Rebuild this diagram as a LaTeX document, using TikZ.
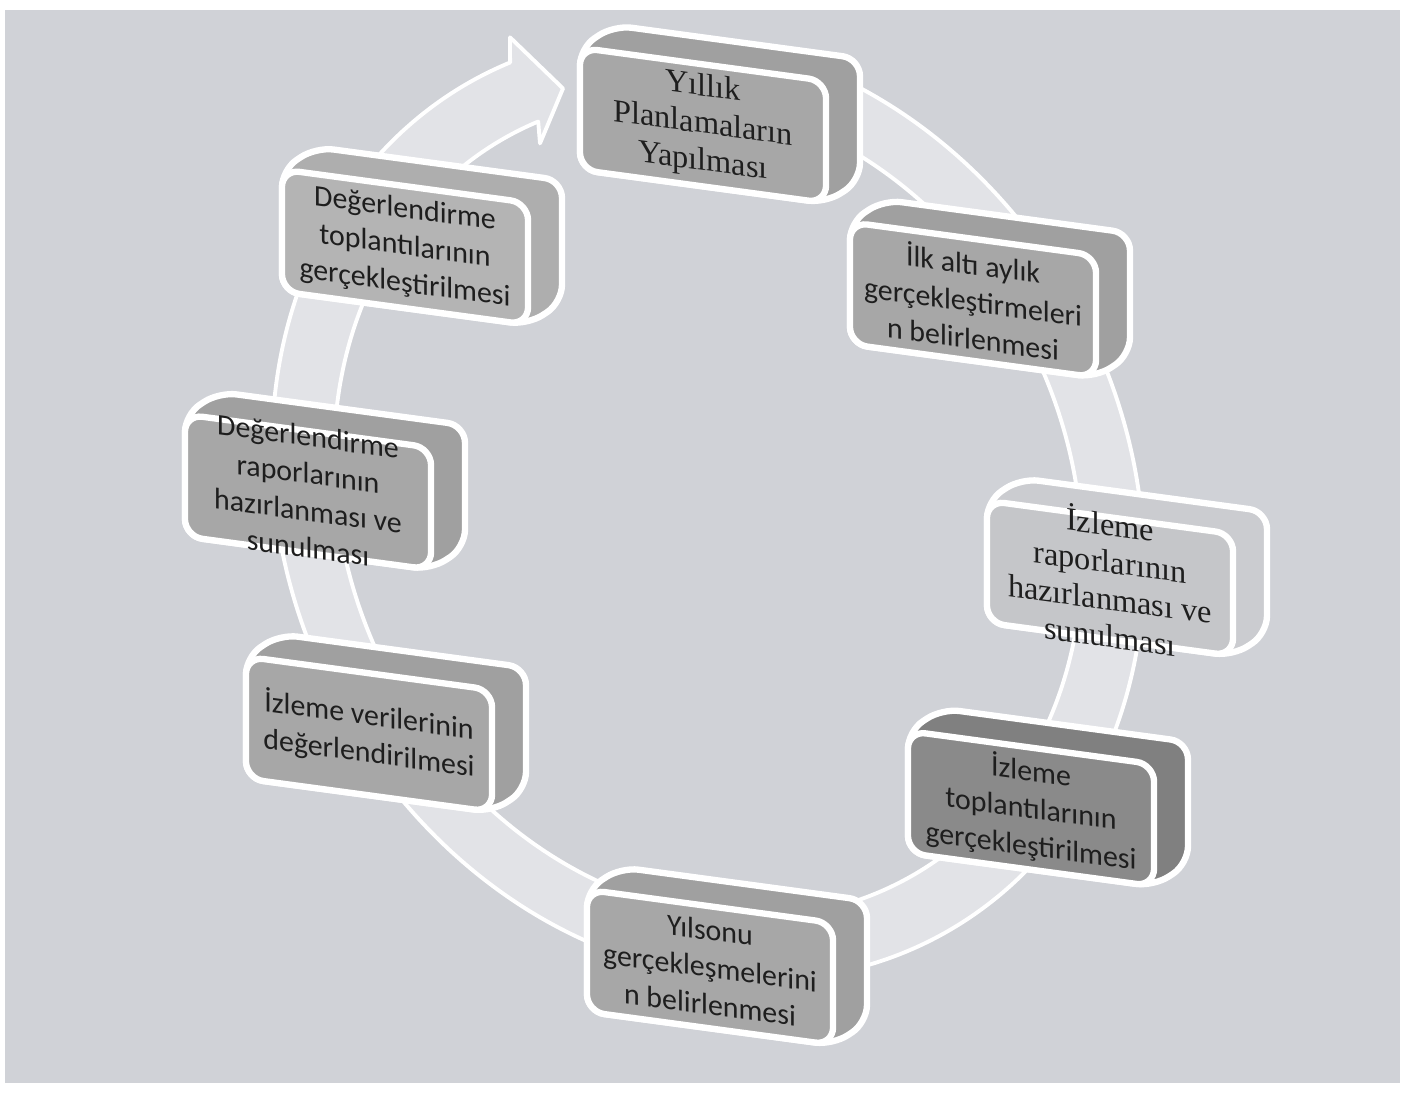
\documentclass[tikz,border=0pt]{standalone}
\usepackage{fontspec}
\setmainfont{Carlito}
\newfontfamily\sansf{Carlito}
\newfontfamily\seriff{Liberation Serif}
\definecolor{bgc}{RGB}{208,210,215}
\definecolor{bandc}{RGB}{226,227,231}
\definecolor{txt}{RGB}{30,30,30}
\definecolor{fA}{RGB}{167,167,167}
\definecolor{sA}{RGB}{160,160,160}
\definecolor{fL}{RGB}{197,198,201}
\definecolor{sL}{RGB}{203,204,208}
\definecolor{fD}{RGB}{138,138,138}
\definecolor{sD}{RGB}{128,128,128}
\definecolor{fM}{RGB}{180,180,180}
\definecolor{sM}{RGB}{174,174,174}
\tikzset{
  sideface/.style={draw=white, line width=1.8pt, rounded corners=5pt, line join=round},
  boxface/.style={draw=white, line width=1.8pt, rounded corners=5pt,
    minimum width=2.46cm, minimum height=1.22cm, inner sep=0pt, outer sep=0pt},
  boxtext/.style={align=center, text=txt, inner sep=0pt},
  sanstext/.style={font=\fontsize{8.5}{10.6}\selectfont\sansf},
  seriftext/.style={font=\fontsize{9.2}{10.6}\selectfont\seriff},
  band/.style={fill=bandc, draw=white, line width=1.1pt, line join=round}
}
\newcommand\cyclebox[7]{%
  \filldraw[sideface, fill=#5] (#2,#3) ++(-123,61) -- ++(34,27) -- ++(246,0)
    -- ++(0,-122) -- ++(-34,-27) -- ++(-246,0) -- cycle;
  \node[boxface, fill=#4] (#1) at (#2,#3) {};
  \node[boxtext, #6] (#1t) at (#2,#3) {#7};
}
\begin{document}
\begin{tikzpicture}[x=0.01cm,y=0.01cm]
\useasboundingbox (0,0) rectangle (1414,-1095);
\fill[white] (0,0) rectangle (1414,-1095);
\fill[bgc] (5,-10) rectangle (1400,-1083);
\begin{scope}[cm={1,-0.135,0,1,(0cm,0.9545cm)}, transform shape]
  % circular arrow band
  \filldraw[band] (768.7,-42.6)
    arc[start angle=82, end angle=-243, x radius=436, y radius=469]
    -- (510,-64) -- (563,-108) -- (540,-166) -- (538.2,-144.4)
    arc[start angle=-243, end angle=82, x radius=374, y radius=407]
    -- cycle;
  % boxes
  \cyclebox{b1}{703}{-126}{fA}{sA}{seriftext}{Yıllık\\Planlamaların\\Yapılması}
  \cyclebox{b2}{973}{-264}{fA}{sA}{sanstext}{İlk altı aylık\\gerçekleştirmeleri\\n belirlenmesi}
  \cyclebox{b3}{1110}{-524}{fL}{sL}{seriftext}{İzleme\\raporlarının\\hazırlanması ve\\sunulması}
  \cyclebox{b4}{1031}{-765}{fD}{sD}{sanstext}{İzleme\\toplantılarının\\gerçekleştirilmesi}
  \cyclebox{b5}{710}{-967}{fA}{sA}{sanstext}{Yılsonu\\gerçekleşmelerini\\n belirlenmesi}
  \cyclebox{b6}{369}{-780}{fA}{sA}{sanstext}{İzleme verilerinin\\değerlendirilmesi}
  \cyclebox{b7}{308}{-546}{fA}{sA}{sanstext}{Değerlendirme\\raporlarının\\hazırlanması ve\\sunulması}
  \cyclebox{b8}{405}{-288}{fM}{sM}{sanstext}{Değerlendirme\\toplantılarının\\gerçekleştirilmesi}
\end{scope}
\end{tikzpicture}
\end{document}
